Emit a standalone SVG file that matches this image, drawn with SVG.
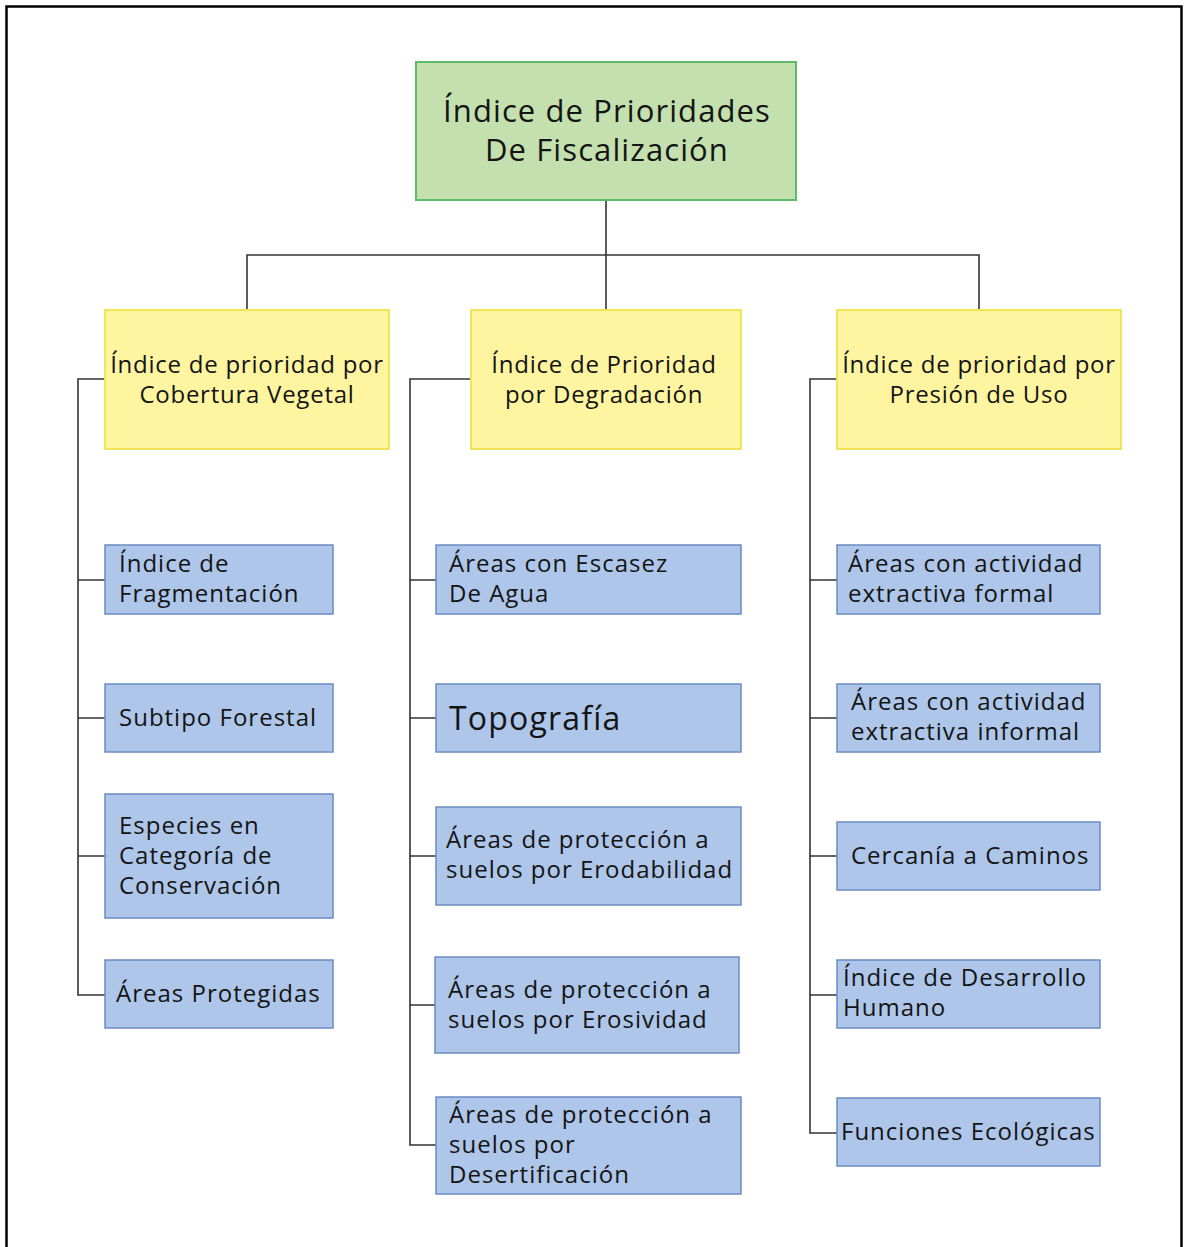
<svg xmlns="http://www.w3.org/2000/svg" width="1184" height="1247" viewBox="0 0 1184 1247">
<style>
text{font-family:"Open Sans","Noto Sans","DejaVu Sans",sans-serif;fill:#141414}
.root{fill:#c3e0ae;stroke:#5dbb6a;stroke-width:2}
.l1{fill:#fff5a0;stroke:#f2e45a;stroke-width:2}
.l2{fill:#aec6e9;stroke:#6b8cc2;stroke-width:1.5}
.t1{font-size:31px;letter-spacing:1.1px}
.t2{font-size:24px;letter-spacing:0.75px}
.t3{font-size:24px;letter-spacing:1px}
.big{font-size:32px;letter-spacing:1.2px}
.c{text-anchor:middle}
.conn{fill:none;stroke:#333;stroke-width:1.6}
</style>
<rect x="0" y="0" width="1184" height="1247" fill="#fff"/>
<path d="M6.5,1247 V6.5 H1181.5 V1247" fill="none" stroke="#000" stroke-width="2.5"/>
<g id="connectors" class="conn">
<path d="M606,200 V255 M247,310 V255 H979 V310 M606,255 V310"/>
<path d="M105,379 H78 V995 H105 M78,580 H105 M78,718 H105 M78,856 H105"/>
<path d="M471,379 H410 V1145 H436 M410,580 H436 M410,718 H436 M410,856 H436 M410,1005 H435"/>
<path d="M837,379 H810 V1133 H837 M810,580 H837 M810,718 H837 M810,856 H837 M810,995 H837"/>
</g>
<g id="root"><rect class="root" x="416" y="62" width="380" height="138"/>
<text class="t1 c" x="607" y="122">Índice de Prioridades</text>
<text class="t1 c" x="607" y="161">De Fiscalización</text></g>
<g id="cobertura"><rect class="l1" x="105" y="310" width="284" height="139"/>
<text class="t2 c" x="247" y="373">Índice de prioridad por</text>
<text class="t2 c" x="247" y="403">Cobertura Vegetal</text></g>
<g id="degradacion"><rect class="l1" x="471" y="310" width="270" height="139"/>
<text class="t2 c" x="604" y="373">Índice de Prioridad</text>
<text class="t2 c" x="604" y="403">por Degradación</text></g>
<g id="presion"><rect class="l1" x="837" y="310" width="284" height="139"/>
<text class="t2 c" x="979" y="373">Índice de prioridad por</text>
<text class="t2 c" x="979" y="403">Presión de Uso</text></g>

<g id="fragmentacion"><rect class="l2" x="105" y="545" width="228" height="69"/>
<text class="t3" x="119" y="572">Índice de</text>
<text class="t3" x="119" y="602">Fragmentación</text></g>
<g id="subtipo"><rect class="l2" x="105" y="684" width="228" height="68"/>
<text class="t3" x="119" y="726">Subtipo Forestal</text></g>
<g id="especies"><rect class="l2" x="105" y="794" width="228" height="124"/>
<text class="t3" x="119" y="834">Especies en</text>
<text class="t3" x="119" y="864">Categoría de</text>
<text class="t3" x="119" y="894">Conservación</text></g>
<g id="protegidas"><rect class="l2" x="105" y="960" width="228" height="68"/>
<text class="t3" x="116" y="1002">Áreas Protegidas</text></g>

<g id="escasez"><rect class="l2" x="436" y="545" width="305" height="69"/>
<text class="t3" x="449" y="572">Áreas con Escasez</text>
<text class="t3" x="449" y="602">De Agua</text></g>
<g id="topografia"><rect class="l2" x="436" y="684" width="305" height="68"/>
<text class="big" x="449" y="730">Topografía</text></g>
<g id="erodabilidad"><rect class="l2" x="436" y="807" width="305" height="98"/>
<text class="t3" x="446" y="848">Áreas de protección a</text>
<text class="t3" x="446" y="878">suelos por Erodabilidad</text></g>
<g id="erosividad"><rect class="l2" x="435" y="957" width="304" height="96"/>
<text class="t3" x="448" y="998">Áreas de protección a</text>
<text class="t3" x="448" y="1028">suelos por Erosividad</text></g>
<g id="desertificacion"><rect class="l2" x="436" y="1097" width="305" height="97"/>
<text class="t3" x="449" y="1123">Áreas de protección a</text>
<text class="t3" x="449" y="1153">suelos por</text>
<text class="t3" x="449" y="1183">Desertificación</text></g>

<g id="formal"><rect class="l2" x="837" y="545" width="263" height="69"/>
<text class="t3" x="848" y="572">Áreas con actividad</text>
<text class="t3" x="848" y="602">extractiva formal</text></g>
<g id="informal"><rect class="l2" x="837" y="684" width="263" height="68"/>
<text class="t3" x="851" y="710">Áreas con actividad</text>
<text class="t3" x="851" y="740">extractiva informal</text></g>
<g id="caminos"><rect class="l2" x="837" y="822" width="263" height="68"/>
<text class="t3" x="851" y="864">Cercanía a Caminos</text></g>
<g id="idh"><rect class="l2" x="837" y="960" width="263" height="68"/>
<text class="t3" x="843" y="986">Índice de Desarrollo</text>
<text class="t3" x="843" y="1016">Humano</text></g>
<g id="funciones"><rect class="l2" x="837" y="1098" width="263" height="68"/>
<text class="t3" x="841" y="1140">Funciones Ecológicas</text></g>
</svg>
